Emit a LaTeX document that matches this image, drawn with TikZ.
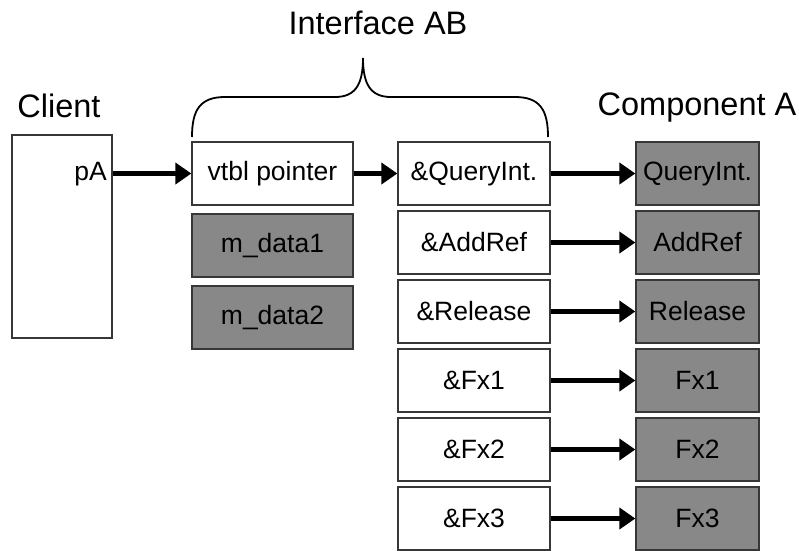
\documentclass[tikz,border=0pt]{standalone}
\usepackage{fontspec}
\setmainfont{Liberation Sans}
\usetikzlibrary{arrows.meta}
\definecolor{boxgray}{RGB}{136,136,136}
\definecolor{edgegray}{RGB}{55,55,55}
\begin{document}
\begin{tikzpicture}[x=1pt,y=-1pt,
  boxtext/.style={font=\fontsize{26.5}{30}\selectfont},
  labeltext/.style={font=\fontsize{32.5}{36}\selectfont, anchor=base},
  cell/.style={boxtext, draw=edgegray, line width=1.3pt, inner sep=0pt, minimum height=63pt},
  whitecell/.style={cell, fill=white},
  graycell/.style={cell, fill=boxgray},
  ptr/.style={line width=4.6pt, -{Triangle[length=16pt,width=21pt]}},
]
\useasboundingbox (0,0) rectangle (799,550);

% labels
\node[labeltext] (lclient) at (59,117) {Client};
\node[labeltext] (liface) at (378,34) {Interface AB};
\node[labeltext] (lcomp) at (697,115) {Component A};

% client
\node[whitecell, minimum width=100pt, minimum height=203pt] (client) at (62,236.5) {};
\node[boxtext, anchor=base east, inner sep=0pt] (pA) at (107,180) {pA};

% object
\node[whitecell, minimum width=161pt] (vtbl) at (272.5,173.5) {vtbl pointer};
\node[graycell, minimum width=161pt] (md1) at (272.5,245.5) {m\_data1};
\node[graycell, minimum width=161pt] (md2) at (272.5,317.5) {m\_data2};

% vtable and component
\foreach \i/\a/\b in {0/\&QueryInt./QueryInt., 1/\&AddRef/AddRef, 2/\&Release/Release, 3/\&Fx1/Fx1, 4/\&Fx2/Fx2, 5/\&Fx3/Fx3}{
  \node[whitecell, minimum width=152pt] (v\i) at (474,173.5+69*\i) {\a};
  \node[graycell, minimum width=123pt] (c\i) at (697.5,173.5+69*\i) {\b};
  \draw[ptr] (v\i.east) -- (c\i.west);
}

\draw[ptr] (client.east |- vtbl) -- (vtbl.west);
\draw[ptr] (vtbl.east) -- (v0.west);

% brace
\coordinate (bl) at (192,137);
\coordinate (br) at (548,137);
\coordinate (bt) at (363,58);
\draw[line width=1.8pt] (bl) .. controls (192,110) and (200,97) .. (225,97)
  -- (335,97) .. controls (355,97) and (363,85) .. (bt)
  .. controls (363,85) and (371,97) .. (391,97)
  -- (515,97) .. controls (540,97) and (548,110) .. (br);
\end{tikzpicture}
\end{document}
